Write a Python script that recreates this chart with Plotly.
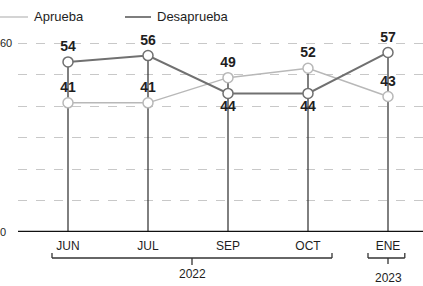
import plotly.graph_objects as go

months = ["JUN", "JUL", "SEP", "OCT", "ENE"]
aprueba = [41, 41, 49, 52, 43]
desaprueba = [54, 56, 44, 44, 57]
years = ["2022", "2023"]
y_ticks = [60, 0]

W, H = 423, 286
L, R, T, B = 18, 0, 27, 54
PW, PH = W - L - R, H - T - B
x0px, dx = 68, 80  # pixel of first month, spacing
xr = [(L - x0px) / dx, (W - R - x0px) / dx]
ppu = 3.15
yr = [0, PH / ppu]

def px_to_paper_x(px):
    return (px - L) / PW

def py_to_paper_y(py):
    return (H - B - py) / PH

xs = list(range(len(months)))
GRAY_D = "#707070"
GRAY_L = "#b8b8b8"
TXT = "#1e1e1e"
FONT = "Liberation Sans"

fig = go.Figure()

# vertical drop lines from the top point of each month
vx, vy = [], []
for i in xs:
    vx += [i, i, None]
    vy += [0, max(aprueba[i], desaprueba[i]), None]
fig.add_trace(go.Scatter(x=vx, y=vy, mode="lines",
                         line=dict(color="#2a2a2a", width=1.2),
                         hoverinfo="skip", showlegend=False))

fig.add_trace(go.Scatter(
    x=xs, y=aprueba, mode="lines+markers+text", name="Aprueba",
    line=dict(color=GRAY_L, width=1.5),
    marker=dict(size=10, color="white", line=dict(color=GRAY_L, width=1.5)),
    text=[str(v) for v in aprueba], textposition="top center",
    textfont=dict(family=FONT, size=14, color=TXT, weight="bold"),
    showlegend=False))

d_pos = ["top center" if d > a else "bottom center" for a, d in zip(aprueba, desaprueba)]
fig.add_trace(go.Scatter(
    x=xs, y=desaprueba, mode="lines+markers+text", name="Desaprueba",
    line=dict(color=GRAY_D, width=2),
    marker=dict(size=10, color="white", line=dict(color=GRAY_D, width=1.5)),
    text=[str(v) for v in desaprueba], textposition=d_pos,
    textfont=dict(family=FONT, size=14, color=TXT, weight="bold"),
    showlegend=False))

shapes = []
annotations = []

# legend
leg_y = py_to_paper_y(17)
for (x_a, x_b, tx, label, col, w) in [(0, 28, 32, "Aprueba", GRAY_L, 1.2),
                                      (125, 151, 155, "Desaprueba", GRAY_D, 1.8)]:
    shapes.append(dict(type="line", xref="paper", yref="paper",
                       x0=px_to_paper_x(x_a), x1=px_to_paper_x(x_b),
                       y0=leg_y, y1=leg_y, line=dict(color=col, width=w)))
    annotations.append(dict(xref="paper", yref="paper", x=px_to_paper_x(tx), y=leg_y,
                            text=label, showarrow=False, xanchor="left", yanchor="middle",
                            font=dict(family=FONT, size=13, color=TXT)))

# y labels
for v, pxr in zip(y_ticks, [14, 8]):
    annotations.append(dict(xref="paper", yref="y", x=px_to_paper_x(pxr), y=v,
                            text=str(v), showarrow=False, xanchor="right", yanchor="middle",
                            font=dict(family=FONT, size=11, color=TXT)))

# x axis baseline
shapes.append(dict(type="line", xref="paper", yref="y", x0=0, x1=1, y0=0, y1=0,
                   line=dict(color="#111", width=2.5)))

# year brackets: (x start, x end, x centre, y bar, y end-tips, y centre-tick, y label) in px
brackets = [(-0.2, 3.3, 1.55, 258, 253, 265, 274), (3.75, 4.21, 4.0, 258, 253, 264, 278)]
for label, br in zip(years, brackets):
    xa, xb, xc, yb, ye, yc, yt = br
    ybp, yep, ycp = py_to_paper_y(yb), py_to_paper_y(ye), py_to_paper_y(yc)
    shapes.append(dict(type="line", xref="x", yref="paper", x0=xa, x1=xb, y0=ybp, y1=ybp,
                       line=dict(color="#333", width=1.3)))
    for xe in (xa, xb):
        shapes.append(dict(type="line", xref="x", yref="paper", x0=xe, x1=xe, y0=ybp, y1=yep,
                           line=dict(color="#333", width=1.3)))
    shapes.append(dict(type="line", xref="x", yref="paper", x0=xc, x1=xc, y0=ybp, y1=ycp,
                       line=dict(color="#333", width=1.3)))
    annotations.append(dict(xref="x", yref="paper", x=xc, y=py_to_paper_y(yt),
                            text=label, showarrow=False, xanchor="center", yanchor="middle",
                            font=dict(family=FONT, size=12, color=TXT)))

fig.update_layout(
    width=W, height=H, margin=dict(l=L, r=R, t=T, b=B),
    paper_bgcolor="white", plot_bgcolor="white",
    shapes=shapes, annotations=annotations, showlegend=False,
    xaxis=dict(range=xr, tickvals=xs, ticktext=months, showgrid=False, zeroline=False,
               showline=False, ticks="", ticklabelstandoff=5,
               tickfont=dict(family=FONT, size=12, color=TXT)),
    yaxis=dict(range=yr, tickvals=[10, 20, 30, 40, 50, 60], showticklabels=False,
               showgrid=True, gridcolor="#c8c8c8", gridwidth=1, griddash="dash",
               zeroline=False, showline=False),
)

fig.write_html("out.html", config={"displayModeBar": False},
               post_script="document.body.style.margin='0';document.body.style.overflow='hidden';")
